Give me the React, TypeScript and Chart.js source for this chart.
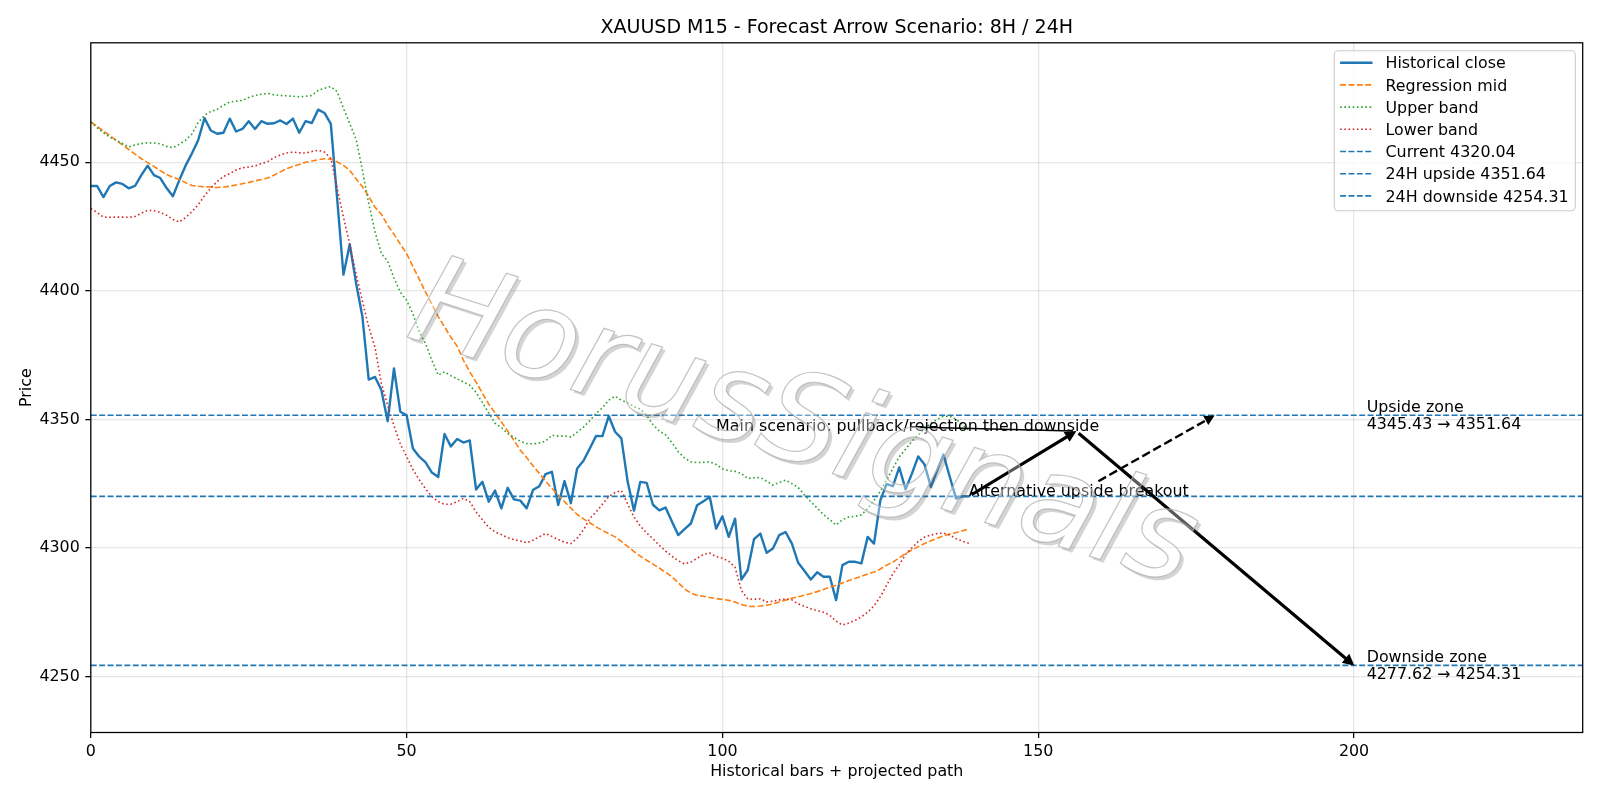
import React, { useEffect, useRef } from "react";
import { Chart, registerables } from "chart.js";

Chart.register(...registerables);

// ---------------- data ----------------
const TITLE = "XAUUSD M15 - Forecast Arrow Scenario: 8H / 24H";
const X_LABEL = "Historical bars + projected path";
const Y_LABEL = "Price";

const X_MIN = 0;
const X_MAX = 236.2;
const Y_MIN = 4228.2;
const Y_MAX = 4496.5;
const X_TICKS = [0, 50, 100, 150, 200];
const Y_TICKS = [4250, 4300, 4350, 4400, 4450];

const HIST_CLOSE = [
  4440.8, 4440.8, 4436.5, 4440.8, 4442.2, 4441.6, 4439.9, 4440.8, 4445.0, 4448.7,
  4445.0, 4443.9, 4440.0, 4436.8, 4443.0, 4448.7, 4453.4, 4458.6, 4467.2, 4462.4,
  4461.1, 4461.5, 4467.0, 4462.0, 4463.0, 4466.0, 4463.0, 4466.0, 4465.0, 4465.2,
  4466.3, 4464.9, 4467.0, 4461.5, 4466.0, 4465.3, 4470.5, 4469.2, 4465.0, 4436.0,
  4406.3, 4418.1, 4403.0, 4390.0, 4365.5, 4366.5, 4361.4, 4349.3, 4369.8, 4353.0,
  4351.6, 4338.7, 4335.5, 4333.3, 4329.3, 4327.6, 4344.3, 4339.5, 4342.4, 4341.0,
  4341.8, 4322.7, 4325.7, 4318.0, 4322.3, 4315.4, 4323.4, 4318.9, 4318.4, 4315.4,
  4322.5, 4324.0, 4328.7, 4329.6, 4316.7, 4326.0, 4317.4, 4330.9, 4333.9, 4338.7,
  4343.6, 4343.5, 4351.3, 4345.2, 4342.6, 4325.7, 4314.5, 4325.7, 4325.3, 4316.8,
  4314.6, 4315.7, 4310.3, 4305.0, 4307.3, 4309.5, 4316.6, 4318.2, 4319.8, 4307.5,
  4312.3, 4304.3, 4311.4, 4287.7, 4291.3, 4303.4, 4305.6, 4298.1, 4299.8, 4305.0,
  4306.2, 4301.7, 4294.2, 4291.0, 4287.7, 4290.5, 4288.8, 4288.8, 4279.7, 4293.3,
  4294.6, 4294.6, 4294.0, 4304.3, 4301.7, 4318.5, 4324.8, 4324.0, 4331.3, 4322.8,
  4328.9, 4335.6, 4332.5, 4323.7, 4330.2, 4336.3, 4327.6, 4319.2, 4320.1, 4320.04,
];

const REG_MID = [
  4465.7, 4464.0, 4462.2, 4460.4, 4458.6, 4456.8, 4455.0, 4453.2, 4451.4, 4449.9,
  4448.4, 4446.8, 4445.3, 4444.2, 4443.3, 4442.1, 4441.0, 4440.7, 4440.5, 4440.4,
  4440.2, 4440.4, 4440.7, 4441.2, 4441.7, 4442.2, 4442.8, 4443.3, 4443.9, 4445.0,
  4446.3, 4447.5, 4448.4, 4449.2, 4450.0, 4450.5, 4451.0, 4451.4, 4451.2, 4450.2,
  4448.8, 4446.9, 4443.6, 4440.5, 4436.8, 4432.5, 4429.8, 4425.5, 4422.0, 4418.2,
  4414.5, 4409.5, 4404.6, 4399.5, 4394.8, 4390.0, 4386.0, 4382.0, 4378.5, 4373.0,
  4368.5, 4364.5, 4360.2, 4356.0, 4352.5, 4349.0, 4345.5, 4341.8, 4338.0, 4335.2,
  4332.0, 4329.0, 4326.0, 4323.2, 4320.5, 4318.0, 4315.5, 4313.0, 4311.3, 4309.8,
  4308.2, 4306.8, 4305.6, 4304.3, 4302.5, 4300.6, 4298.6, 4296.8, 4295.2, 4293.7,
  4292.2, 4290.5, 4288.8, 4286.5, 4284.0, 4282.5, 4281.5, 4281.2, 4280.7, 4280.3,
  4280.0, 4279.6, 4279.0, 4278.0, 4277.3, 4277.2, 4277.4, 4277.7, 4278.2, 4279.0,
  4279.7, 4280.4, 4281.0, 4281.6, 4282.3, 4283.0, 4283.8, 4284.7, 4285.5, 4286.4,
  4287.3, 4288.1, 4289.0, 4289.9, 4290.6, 4291.8, 4293.3, 4294.5, 4296.2, 4297.8,
  4299.2, 4300.5, 4301.7, 4302.8, 4303.8, 4304.7, 4305.4, 4306.0, 4306.7, 4307.3,
];

const UPPER_BAND = [
  4465.7, 4463.5, 4461.5, 4459.8, 4458.6, 4457.3, 4456.0, 4456.8, 4457.3, 4457.6,
  4457.5, 4457.2, 4456.2, 4455.7, 4457.0, 4458.6, 4461.0, 4465.5, 4468.3, 4469.8,
  4470.6, 4472.2, 4473.5, 4473.8, 4474.1, 4475.2, 4476.0, 4476.5, 4476.8, 4476.3,
  4476.0, 4475.9, 4475.7, 4475.5, 4475.7, 4476.0, 4478.0, 4478.8, 4479.5, 4477.5,
  4471.0, 4465.0, 4459.0, 4447.0, 4434.0, 4423.0, 4414.5, 4411.5, 4405.0, 4399.5,
  4396.3, 4391.0, 4384.0, 4379.5, 4373.0, 4367.2, 4368.5, 4367.0, 4365.8, 4364.5,
  4363.3, 4360.5, 4356.5, 4352.5, 4348.5, 4346.8, 4344.5, 4343.0, 4341.5, 4340.6,
  4340.5, 4340.8, 4341.5, 4343.9, 4343.5, 4343.5, 4343.2, 4345.0, 4347.0, 4349.5,
  4352.3, 4354.5, 4357.5, 4359.0, 4357.5, 4356.5, 4355.0, 4354.0, 4351.5, 4348.0,
  4345.5, 4344.0, 4341.0, 4337.4, 4335.0, 4333.5, 4333.2, 4333.3, 4333.5, 4332.5,
  4330.8, 4330.0, 4329.8, 4329.0, 4327.0, 4327.3, 4327.4, 4326.0, 4324.4, 4325.5,
  4326.4, 4325.0, 4323.5, 4320.5, 4318.0, 4315.5, 4313.0, 4311.0, 4308.9, 4311.0,
  4312.0, 4312.3, 4312.8, 4315.3, 4318.5, 4322.0, 4326.5, 4331.0, 4335.5, 4338.5,
  4341.5, 4344.0, 4346.5, 4348.5, 4350.0, 4351.2, 4351.3, 4350.0, 4348.0, 4345.8,
];

const LOWER_BAND = [
  4432.0, 4430.5, 4428.7, 4428.6, 4428.7, 4428.7, 4428.6, 4428.9, 4430.2, 4431.3,
  4431.2, 4430.5, 4429.4, 4427.8, 4426.8, 4428.5, 4430.8, 4433.5, 4437.0, 4440.0,
  4442.5, 4444.5, 4445.6, 4447.0, 4447.9, 4448.2, 4448.6, 4449.5, 4450.3, 4451.8,
  4452.9, 4453.6, 4454.0, 4453.7, 4453.6, 4454.2, 4454.7, 4454.0, 4451.5, 4440.0,
  4428.7, 4418.0, 4406.5, 4396.0, 4386.0, 4378.0, 4364.0, 4355.5, 4347.5, 4340.5,
  4335.5, 4330.5, 4326.5, 4323.0, 4320.0, 4318.0, 4317.0, 4317.0, 4318.0, 4319.3,
  4318.0, 4314.0, 4311.0, 4308.0, 4306.2, 4305.2, 4304.0, 4303.2, 4302.7, 4302.0,
  4303.0, 4304.3, 4305.6, 4304.5, 4303.3, 4302.2, 4301.7, 4303.8, 4307.0, 4311.5,
  4314.0, 4317.0, 4320.0, 4321.5, 4322.3, 4317.0, 4312.0, 4308.5, 4305.8, 4303.6,
  4301.0, 4298.8, 4296.8, 4295.0, 4293.8, 4294.5, 4296.0, 4297.5, 4298.0, 4296.6,
  4296.0, 4294.8, 4292.5, 4283.5, 4280.2, 4280.0, 4280.2, 4279.0, 4279.3, 4279.8,
  4280.2, 4279.8, 4278.2, 4277.3, 4276.3, 4275.6, 4275.0, 4273.8, 4271.5, 4270.0,
  4270.8, 4271.8, 4273.2, 4275.0, 4277.5, 4281.0, 4285.5, 4290.0, 4293.5, 4297.5,
  4300.0, 4302.5, 4304.2, 4305.0, 4305.6, 4305.8, 4305.0, 4303.6, 4302.6, 4301.8,
];

const CURRENT = 4320.04;
const UPSIDE_24H = 4351.64;
const DOWNSIDE_24H = 4254.31;
const UPSIDE_ZONE_FROM = 4345.43;
const DOWNSIDE_ZONE_FROM = 4277.62;

// projected main path: last bar -> pullback pivot -> 24H downside
const MAIN_PATH_X = [139, 156, 200];
const MAIN_PATH_Y = [CURRENT, UPSIDE_ZONE_FROM, DOWNSIDE_24H];
// alternative breakout target
const ALT_TARGET = [178, UPSIDE_24H];

const MAIN_TEXT = "Main scenario: pullback/rejection then downside";
const MAIN_TEXT_AT = [99, UPSIDE_ZONE_FROM];
const ALT_TEXT = "Alternative upside breakout";
const ALT_TEXT_AT = [139, CURRENT];
const ZONE_TEXT_X = 202;
const WATERMARK = "HorusSignals";

const LEGEND_LABELS = [
  "Historical close",
  "Regression mid",
  "Upper band",
  "Lower band",
  `Current ${CURRENT.toFixed(2)}`,
  `24H upside ${UPSIDE_24H.toFixed(2)}`,
  `24H downside ${DOWNSIDE_24H.toFixed(2)}`,
];

// ---------------- style / layout ----------------
const FONT = "'DejaVu Sans', 'Liberation Sans', sans-serif";
const FS = 15.87;
const TITLE_FS = 19.05;
const PLOT_LEFT = 90.8;
const PLOT_RIGHT = 1582.7;
const PLOT_TOP = 42.8;
const PLOT_BOTTOM = 732.5;
const BLUE = "#1f77b4";
const DASH = [5.9, 2.5];
const DOT = [1.6, 2.6];

function drawArrow(ctx: CanvasRenderingContext2D, x0: number, y0: number, x1: number, y1: number, o: any) {
  const dx = x1 - x0, dy = y1 - y0;
  const L = Math.hypot(dx, dy);
  const ux = dx / L, uy = dy / L;
  const sx = x0 + ux * o.shrinkA, sy = y0 + uy * o.shrinkA;
  const ex = x1 - ux * o.shrinkB, ey = y1 - uy * o.shrinkB;
  const bx = o.head ? ex - ux * o.headLen : ex;
  const by = o.head ? ey - uy * o.headLen : ey;
  ctx.save();
  ctx.strokeStyle = "#000";
  ctx.fillStyle = "#000";
  ctx.lineWidth = o.lw;
  ctx.lineCap = "butt";
  ctx.setLineDash(o.dash || []);
  ctx.beginPath();
  ctx.moveTo(sx, sy);
  ctx.lineTo(o.head ? bx + ux * 1 : ex, o.head ? by + uy * 1 : ey);
  ctx.stroke();
  if (o.head) {
    ctx.setLineDash([]);
    ctx.lineJoin = "miter";
    ctx.lineWidth = o.headLw;
    ctx.beginPath();
    ctx.moveTo(ex, ey);
    ctx.lineTo(bx - uy * o.headHalf, by + ux * o.headHalf);
    ctx.lineTo(bx + uy * o.headHalf, by - ux * o.headHalf);
    ctx.closePath();
    ctx.fill();
    ctx.stroke();
  }
  ctx.restore();
}

function drawWatermark(ctx: CanvasRenderingContext2D) {
  const WX = 404, WY = 336, ANG = (17.8 * Math.PI) / 180;
  const font = `italic 125px ${FONT}`;
  const place = (c: CanvasRenderingContext2D, dx: number, dy: number, fn: (c: CanvasRenderingContext2D) => void) => {
    c.save();
    c.translate(WX + dx, WY + dy);
    c.rotate(ANG);
    c.font = font;
    c.textAlign = "left";
    c.textBaseline = "alphabetic";
    fn(c);
    c.restore();
  };
  const off = document.createElement("canvas");
  off.width = 1600;
  off.height = 800;
  const o = off.getContext("2d")!;
  place(o, 3.2, 3.2, (c) => {
    c.fillStyle = "rgba(90,90,90,0.26)";
    c.fillText(WATERMARK, 0, 0);
  });
  o.globalCompositeOperation = "destination-out";
  place(o, 0, 0, (c) => {
    c.fillStyle = "#000";
    c.fillText(WATERMARK, 0, 0);
  });
  ctx.save();
  ctx.setTransform(1, 0, 0, 1, 0, 0);
  ctx.drawImage(off, 0, 0);
  ctx.restore();
  place(ctx, 0, 0, (c) => {
    c.fillStyle = "rgba(255,255,255,0.35)";
    c.fillText(WATERMARK, 0, 0);
    c.strokeStyle = "rgba(175,175,175,0.75)";
    c.lineWidth = 1.2;
    c.strokeText(WATERMARK, 0, 0);
  });
}

export default function App() {
  const ref = useRef<HTMLCanvasElement>(null);

  useEffect(() => {
    const canvas = ref.current!;
    const series = (arr: number[]) => arr.map((y, i) => ({ x: i, y }));
    const hline = (v: number) => [
      { x: X_MIN, y: v },
      { x: X_MAX, y: v },
    ];
    const styles = [
      { color: BLUE, width: 2.4, dash: [] as number[] },
      { color: "#ff7f0e", width: 1.6, dash: DASH },
      { color: "#2ca02c", width: 1.6, dash: DOT },
      { color: "#d62728", width: 1.6, dash: DOT },
      { color: BLUE, width: 1.6, dash: DASH },
      { color: BLUE, width: 1.6, dash: DASH },
      { color: BLUE, width: 1.6, dash: DASH },
    ];
    const dataArrays = [
      series(HIST_CLOSE),
      series(REG_MID),
      series(UPPER_BAND),
      series(LOWER_BAND),
      hline(CURRENT),
      hline(UPSIDE_24H),
      hline(DOWNSIDE_24H),
    ];
    const datasets = dataArrays.map((d, i) => ({
      label: LEGEND_LABELS[i],
      data: d,
      borderColor: styles[i].color,
      backgroundColor: styles[i].color,
      borderWidth: styles[i].width,
      borderDash: styles[i].dash,
      borderCapStyle: "butt",
      borderJoinStyle: "round",
      pointRadius: 0,
      pointHoverRadius: 0,
      tension: 0,
      fill: false,
      order: 20 - i,
    }));

    const overlay = {
      id: "overlay",
      afterDatasetsDraw(chart: any) {
        const ctx: CanvasRenderingContext2D = chart.ctx;
        const xs = chart.scales.x, ys = chart.scales.y;
        const px = (v: number) => xs.getPixelForValue(v);
        const py = (v: number) => ys.getPixelForValue(v);
        ctx.save();
        ctx.font = `${FS}px ${FONT}`;
        ctx.fillStyle = "#000";
        ctx.textAlign = "left";
        ctx.textBaseline = "alphabetic";

        // main scenario annotation text + thin connector
        const mx = px(MAIN_TEXT_AT[0]), my = py(MAIN_TEXT_AT[1]);
        const mw = ctx.measureText(MAIN_TEXT).width;
        const pivX = px(MAIN_PATH_X[1]), pivY = py(MAIN_PATH_Y[1]);
        drawArrow(ctx, mx + mw / 2, my - 0.26 * FS, pivX, pivY, {
          lw: 1.5, shrinkA: 3.2, shrinkB: 3.2, head: false,
        });
        ctx.fillText(MAIN_TEXT, mx, my);

        // thick main path arrows
        for (let k = 0; k < MAIN_PATH_X.length - 1; k++) {
          drawArrow(ctx, px(MAIN_PATH_X[k]), py(MAIN_PATH_Y[k]), px(MAIN_PATH_X[k + 1]), py(MAIN_PATH_Y[k + 1]), {
            lw: 3.2, headLw: 3.2, shrinkA: 3.2, shrinkB: 3.2, head: true, headLen: 6.3, headHalf: 3.2,
          });
        }

        // alternative breakout text + dashed arrow clipped at text box
        const ax = px(ALT_TEXT_AT[0]), ay = py(ALT_TEXT_AT[1]);
        const aw = ctx.measureText(ALT_TEXT).width;
        ctx.fillText(ALT_TEXT, ax, ay);
        const bTop = ay - 0.76 * FS - 1.6, bBot = ay + 0.24 * FS + 1.6;
        const bL = ax - 1.6, bR = ax + aw + 1.6;
        const cx = (bL + bR) / 2, cy = (bTop + bBot) / 2;
        const tx = px(ALT_TARGET[0]), ty = py(ALT_TARGET[1]);
        let t = 1;
        if (ty < bTop) t = Math.min(t, (cy - bTop) / (cy - ty));
        if (tx > bR) t = Math.min(t, (bR - cx) / (tx - cx));
        const sx = cx + (tx - cx) * t, sy = cy + (ty - cy) * t;
        drawArrow(ctx, sx, sy, tx, ty, {
          lw: 2.4, headLw: 2.4, dash: [8.8, 3.8], shrinkA: 3.2, shrinkB: 3.2, head: true, headLen: 6.3, headHalf: 3.2,
        });

        // zone labels
        const zx = px(ZONE_TEXT_X);
        const zones = [
          { y: py(UPSIDE_24H), lines: ["Upside zone", `${UPSIDE_ZONE_FROM.toFixed(2)} \u2192 ${UPSIDE_24H.toFixed(2)}`] },
          { y: py(DOWNSIDE_24H), lines: ["Downside zone", `${DOWNSIDE_ZONE_FROM.toFixed(2)} \u2192 ${DOWNSIDE_24H.toFixed(2)}`] },
        ];
        for (const z of zones) {
          ctx.fillText(z.lines[0], zx, z.y - 3);
          ctx.fillText(z.lines[1], zx, z.y + 13.6);
        }
        ctx.restore();

        drawWatermark(ctx);
      },
      afterDraw(chart: any) {
        const ctx: CanvasRenderingContext2D = chart.ctx;
        const a = chart.chartArea;
        ctx.save();
        // spines
        ctx.strokeStyle = "#000";
        ctx.lineWidth = 1.27;
        ctx.setLineDash([]);
        ctx.strokeRect(a.left, a.top, a.right - a.left, a.bottom - a.top);

        // legend
        const bw = 241, bh = 160;
        const bx = a.right - 7.4 - bw, by = a.top + 7.9;
        ctx.beginPath();
        ctx.roundRect(bx, by, bw, bh, 4);
        ctx.fillStyle = "rgba(255,255,255,0.8)";
        ctx.fill();
        ctx.strokeStyle = "#cccccc";
        ctx.lineWidth = 1.1;
        ctx.stroke();
        ctx.font = `${FS}px ${FONT}`;
        ctx.textAlign = "left";
        ctx.textBaseline = "alphabetic";
        chart.data.datasets.forEach((ds: any, i: number) => {
          const ry = by + 12 + i * 22.2;
          ctx.beginPath();
          ctx.strokeStyle = ds.borderColor;
          ctx.lineWidth = ds.borderWidth;
          ctx.setLineDash(ds.borderDash);
          ctx.lineCap = "butt";
          ctx.moveTo(bx + 5.8, ry);
          ctx.lineTo(bx + 38.2, ry);
          ctx.stroke();
          ctx.setLineDash([]);
          ctx.fillStyle = "#000";
          ctx.fillText(ds.label, bx + 51.2, ry + 5.6);
        });

        // title and axis labels
        const midX = (a.left + a.right) / 2;
        ctx.fillStyle = "#000";
        ctx.textAlign = "center";
        ctx.font = `${TITLE_FS}px ${FONT}`;
        ctx.fillText(TITLE, midX, 32.5);
        ctx.font = `${FS}px ${FONT}`;
        ctx.fillText(X_LABEL, midX, 776);
        ctx.save();
        ctx.translate(30.5, (a.top + a.bottom) / 2);
        ctx.rotate(-Math.PI / 2);
        ctx.fillText(Y_LABEL, 0, 0);
        ctx.restore();
        ctx.restore();
      },
    };

    const tickFont = { family: FONT, size: FS };
    const grid = {
      color: "rgba(176,176,176,0.32)",
      lineWidth: 1.27,
      tickColor: "#000",
      tickWidth: 1.27,
      tickLength: 5.5,
      drawTicks: true,
    };

    const chart = new Chart(canvas, {
      type: "line",
      data: { datasets } as any,
      options: {
        animation: false,
        responsive: false,
        devicePixelRatio: 1,
        events: [],
        layout: { padding: { left: 0, top: PLOT_TOP, right: 1600 - PLOT_RIGHT, bottom: 0 } },
        plugins: {
          legend: { display: false },
          title: { display: false },
          tooltip: { enabled: false },
        },
        scales: {
          x: {
            type: "linear",
            min: X_MIN,
            max: X_MAX,
            afterFit: (s: any) => {
              s.height = 800 - PLOT_BOTTOM;
            },
            afterBuildTicks: (s: any) => {
              s.ticks = X_TICKS.map((v) => ({ value: v }));
            },
            ticks: {
              color: "#000",
              font: tickFont,
              padding: 4.4,
              maxRotation: 0,
              autoSkip: false,
              callback: (v: any) => String(v),
            },
            grid,
            border: { display: false },
          },
          y: {
            type: "linear",
            min: Y_MIN,
            max: Y_MAX,
            afterFit: (s: any) => {
              s.width = PLOT_LEFT;
            },
            afterBuildTicks: (s: any) => {
              s.ticks = Y_TICKS.map((v) => ({ value: v }));
            },
            ticks: {
              color: "#000",
              font: tickFont,
              padding: 5.5,
              autoSkip: false,
              callback: (v: any) => String(v),
            },
            grid,
            border: { display: false },
          },
        },
      } as any,
      plugins: [overlay],
    });

    return () => chart.destroy();
  }, []);

  return (
    <div style={{ position: "fixed", left: 0, top: 0, width: 1600, height: 800, background: "#fff" }}>
      <canvas ref={ref} width={1600} height={800} style={{ width: 1600, height: 800, display: "block" }} />
    </div>
  );
}
